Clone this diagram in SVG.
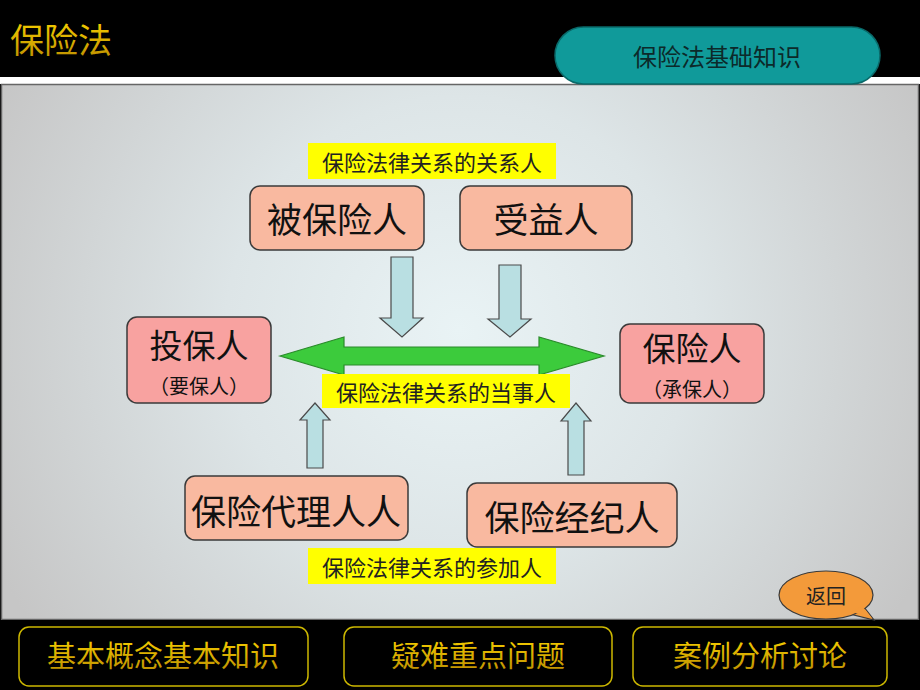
<svg xmlns="http://www.w3.org/2000/svg" width="920" height="690" viewBox="0 0 920 690">
<defs>
<radialGradient id="bg" cx="460" cy="330" r="520" gradientUnits="userSpaceOnUse">
<stop offset="0" stop-color="#e9f3f5"/>
<stop offset="0.45" stop-color="#dde5e7"/>
<stop offset="1" stop-color="#c6c6c6"/>
</radialGradient>
<linearGradient id="gold" x1="0" y1="0" x2="0" y2="1">
<stop offset="0" stop-color="#ffd800"/>
<stop offset="1" stop-color="#b88a00"/>
</linearGradient>
<style>
.cjk{font-family:"Noto Sans CJK SC","Noto Sans CJK JP",sans-serif;}
.box{stroke:#3a3a3a;stroke-width:1.5;}
.salmon{fill:#f9b9a0;}
.pink{fill:#f8a2a0;}
.big{font-size:35px;fill:#111;text-anchor:middle;}
.big2{font-size:33px;fill:#111;text-anchor:middle;}
.sub{font-size:20px;fill:#111;text-anchor:middle;}
.lbl{fill:#ffff00;}
.lbltxt{font-size:22px;fill:#222;text-anchor:middle;}
.blue{fill:#b9dfe2;stroke:#4a4a4a;stroke-width:1.2;}
.btn{fill:#000;stroke:#cdb800;stroke-width:1.5;}
.btntxt{font-size:29px;fill:url(#gold);text-anchor:middle;}
</style>
</defs>
<rect x="0" y="0" width="920" height="690" fill="#000"/>
<rect x="0" y="77" width="920" height="7" fill="#fff"/>
<rect x="1.5" y="84.5" width="917" height="535" fill="url(#bg)" stroke="#666" stroke-width="1.5"/>
<rect x="0" y="620" width="920" height="70" fill="#000"/>

<g id="title"><text class="cjk" x="10" y="53" font-size="34" fill="url(#gold)">保险法</text></g>

<g id="pill">
<rect x="555" y="27" width="325" height="57" rx="28.5" fill="#109a9a" stroke="#0a6a6a" stroke-width="1.5"/>
<text class="cjk" x="717" y="66" font-size="24" fill="#0c2a2a" text-anchor="middle">保险法基础知识</text>
</g>

<g id="connectors">
<polygon points="280,356 344,337 344,347 539,347 539,337 604,356 539,375 539,365 344,365 344,375" fill="#3ccb3c" stroke="#2a8a2a" stroke-width="1.2"/>
<polygon class="blue" points="391,257 413,257 413,318 423,318 402,337 380,318 391,318"/>
<polygon class="blue" points="499,265 521,265 521,319 531,319 510,337 488,319 499,319"/>
<polygon class="blue" points="307,468 323,468 323,420 330,420 315,403 300,420 307,420"/>
<polygon class="blue" points="568,475 584,475 584,421 591,421 576,403 561,421 568,421"/>
</g>

<g id="label-guanxiren">
<rect class="lbl" x="308" y="143" width="248" height="36"/>
<text class="cjk lbltxt" x="432" y="171">保险法律关系的关系人</text>
</g>

<g id="node-beibaoxianren">
<rect class="box salmon" x="250" y="186" width="174" height="64" rx="10"/>
<text class="cjk big" x="337" y="233">被保险人</text>
</g>

<g id="node-shouyiren">
<rect class="box salmon" x="460" y="186" width="172" height="64" rx="10"/>
<text class="cjk big" x="546" y="233">受益人</text>
</g>

<g id="node-toubaoren">
<rect class="box pink" x="127" y="317" width="144" height="86" rx="10"/>
<text class="cjk big2" x="199" y="358">投保人</text>
<text class="cjk sub" x="199" y="394">（要保人）</text>
</g>

<g id="node-baoxianren">
<rect class="box pink" x="620" y="324" width="144" height="79" rx="10"/>
<text class="cjk big2" x="692" y="361">保险人</text>
<text class="cjk sub" x="692" y="397">（承保人）</text>
</g>

<g id="label-dangshiren">
<rect class="lbl" x="322" y="374" width="248" height="34"/>
<text class="cjk lbltxt" x="446" y="401">保险法律关系的当事人</text>
</g>

<g id="node-dailiren">
<rect class="box salmon" x="185" y="476" width="223" height="64" rx="10"/>
<text class="cjk big" x="296" y="525">保险代理人人</text>
</g>

<g id="node-jingjiren">
<rect class="box salmon" x="467" y="483" width="210" height="64" rx="10"/>
<text class="cjk big" x="572" y="531">保险经纪人</text>
</g>

<g id="label-canjiaren">
<rect class="lbl" x="308" y="548" width="248" height="36"/>
<text class="cjk lbltxt" x="432" y="576">保险法律关系的参加人</text>
</g>

<g id="back">
<path d="M 864,607 L 874,620 L 850,614 Z" fill="#f39a3a" stroke="#3a3a3a" stroke-width="1.2"/>
<ellipse cx="826" cy="595" rx="47" ry="24" fill="#f39a3a" stroke="#3a3a3a" stroke-width="1.2"/>
<path d="M 862,606 L 872,618 L 852,612 Z" fill="#f39a3a"/>
<text class="cjk" x="826" y="604" font-size="20" fill="#222" text-anchor="middle">返回</text>
</g>

<g id="btn-basic">
<rect class="btn" x="19" y="627" width="289" height="59" rx="10"/>
<text class="cjk btntxt" x="163" y="667">基本概念基本知识</text>
</g>
<g id="btn-difficult">
<rect class="btn" x="344" y="627" width="268" height="59" rx="10"/>
<text class="cjk btntxt" x="478" y="667">疑难重点问题</text>
</g>
<g id="btn-case">
<rect class="btn" x="633" y="627" width="254" height="59" rx="10"/>
<text class="cjk btntxt" x="760" y="667">案例分析讨论</text>
</g>
</svg>
